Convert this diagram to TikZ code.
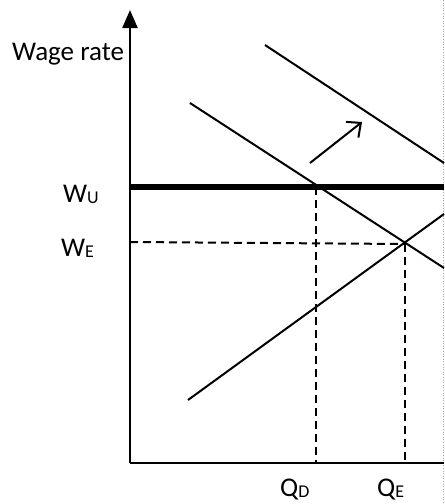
\documentclass[tikz,border=0pt]{standalone}
\usepackage{fontspec}
\setmainfont{Carlito}
\usetikzlibrary{arrows.meta}
\begin{document}
\begin{tikzpicture}[x=1pt,y=-1pt,
  curve/.style={line width=2pt},
  guide/.style={line width=2pt, dash pattern=on 8pt off 5pt},
  lbl/.style={font=\fontsize{27}{30}\selectfont, inner sep=0pt}]
\useasboundingbox (0,0) rectangle (445,504);
% coordinates
\coordinate (O) at (130,463);
\coordinate (Ytop) at (130,10);
\coordinate (Xend) at (444,463);
\coordinate (WUl) at (130,187);
\coordinate (WUr) at (444,187);
\coordinate (WEl) at (130,242);
\coordinate (D) at (316,187);
\coordinate (E) at (405,244);
\coordinate (QD) at (316,463);
\coordinate (QE) at (405,463);
\coordinate (D1a) at (190,103);
\coordinate (D1b) at (444,268);
\coordinate (D2a) at (265,45);
\coordinate (D2b) at (444,163);
\coordinate (Sa) at (188,400);
\coordinate (Sb) at (444,214);
\coordinate (Aa) at (310,163);
\coordinate (Ab) at (362,122);
\coordinate (Ra) at (443,0);
\coordinate (Rb) at (443,504);
% right edge dotted
\draw[gray!70, line width=0.6pt, dotted] (Ra) -- (Rb);
% guides
\draw[guide] (WEl) -- (E);
\draw[guide] (D) -- (QD);
\draw[guide] (E) -- (QE);
% curves
\draw[curve] (D1a) -- (D1b);
\draw[curve] (D2a) -- (D2b);
\draw[curve] (Sa) -- (Sb);
\draw[curve, -{Straight Barb[length=11pt,width=20pt]}] (Aa) -- (Ab);
% union wage
\draw[line width=6pt] (WUl) -- (WUr);
% axes
\draw[line width=2.2pt, -{Triangle[length=18pt,width=15pt]}] (O) -- (Ytop);
\draw[line width=2.2pt] (O) -- (Xend);
% labels
\node[lbl, anchor=base west] (wr) at (12,60) {Wage rate};
\node[lbl, anchor=base west] (wu) at (63,202) {W\raisebox{-1pt}{\fontsize{18}{20}\selectfont U}};
\node[lbl, anchor=base west] (we) at (61,256) {W\raisebox{-1pt}{\fontsize{18}{20}\selectfont E}};
\node[lbl, anchor=base west] (qd) at (280,496) {Q\raisebox{-1pt}{\fontsize{18}{20}\selectfont D}};
\node[lbl, anchor=base west] (qe) at (377,496) {Q\raisebox{-1pt}{\fontsize{18}{20}\selectfont E}};
\end{tikzpicture}
\end{document}
